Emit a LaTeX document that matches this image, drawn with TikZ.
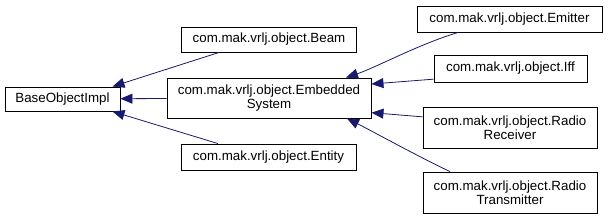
\documentclass[tikz,border=0pt]{standalone}
\usepackage{fontspec}
\setmainfont{Liberation Sans}
\usetikzlibrary{arrows.meta}
\definecolor{edgeblue}{HTML}{191970}
\begin{document}
\begin{tikzpicture}[x=0.75pt,y=-0.75pt,
    box/.style={draw, line width=0.7pt, inner sep=0pt, align=center,
        font=\fontsize{10}{10.5}\selectfont},
    inherit/.style={draw=edgeblue, line width=0.6pt,
        {Triangle[length=9pt,width=7.5pt,fill=edgeblue]}-}]
    \useasboundingbox (0,0) rectangle (608,219);

    \node [box, minimum width=86.25pt, minimum height=18pt] (base) at (62.5,99) {BaseObjectImpl};
    \node [box, minimum width=131.25pt, minimum height=18.75pt] (beam) at (269,39.5) {com.mak.vrlj.object.Beam};
    \node [box, minimum width=153pt, minimum height=30pt] (embedded) at (269,98) {com.mak.vrlj.object.Embedded\\System};
    \node [box, minimum width=131.25pt, minimum height=19.5pt] (entity) at (268.5,157) {com.mak.vrlj.object.Entity};

    \node [box, minimum width=138.75pt, minimum height=19.5pt] (emitter) at (509.5,19) {com.mak.vrlj.object.Emitter};
    \node [box, minimum width=114.75pt, minimum height=20.25pt] (iff) at (510.5,68.5) {com.mak.vrlj.object.Iff};
    \node [box, minimum width=130.5pt, minimum height=30.75pt] (receiver) at (510,127.5) {com.mak.vrlj.object.Radio\\Receiver};
    \node [box, minimum width=130.5pt, minimum height=30.75pt] (transmitter) at (510,192.5) {com.mak.vrlj.object.Radio\\Transmitter};

    % edges to the base class
    \draw [inherit] ([xshift=37.5pt]base.north) -- ([xshift=-37.5pt]beam.south);
    \draw [inherit] (base) -- (embedded);
    \draw [inherit] ([xshift=37.5pt]base.south) -- ([xshift=-38pt]entity.north);

    % edges to the embedded system
    \draw [inherit] ([xshift=57.75pt]embedded.north) .. controls +(30,-10) and +(-40,12) .. ([xshift=-38.6pt]emitter.south);
    \draw [inherit] ([yshift=10.5pt]embedded.east) -- ([yshift=-8pt]iff.west);
    \draw [inherit] ([yshift=-11pt]embedded.east) -- ([yshift=8pt]receiver.west);
    \draw [inherit] ([xshift=58.5pt]embedded.south) .. controls +(24,12) and +(-30,-14) .. ([xshift=-45pt]transmitter.north);
\end{tikzpicture}
\end{document}
